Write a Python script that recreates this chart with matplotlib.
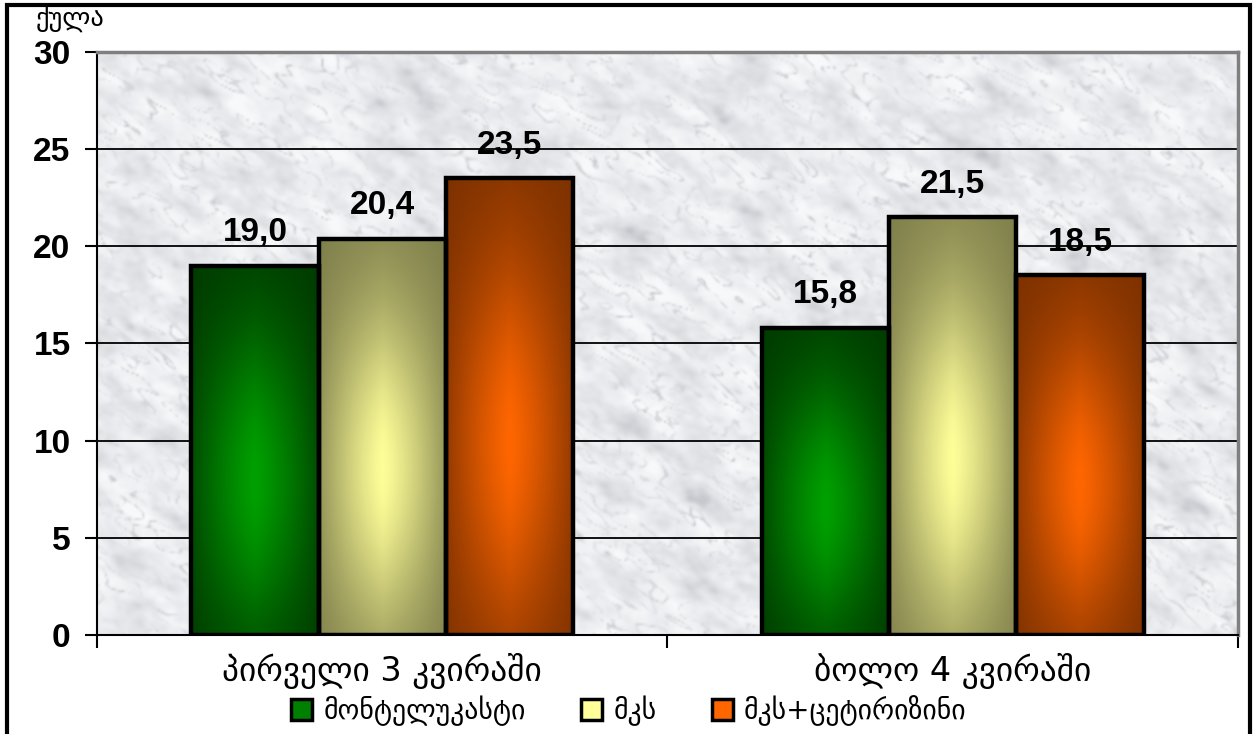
import numpy as np
import matplotlib
matplotlib.use("Agg")
import matplotlib.pyplot as plt
from matplotlib.patches import Patch, Rectangle
from matplotlib.colors import LinearSegmentedColormap, to_rgb

plt.rcParams['font.family'] = ['DejaVu Sans']

categories = ['პირველი 3 კვირაში', 'ბოლო 4 კვირაში']
series_names = ['მონტელუკასტი', 'მკს', 'მკს+ცეტირიზინი']
values = [
    [19.0, 15.8],
    [20.4, 21.5],
    [23.5, 18.5],
]
# dark rim colour and bright centre colour for each series
dark_cols = ['#003800', '#7c7c4a', '#7a3000']
bright_cols = ['#00a000', '#ffff99', '#ff6600']
legend_cols = ['#008000', '#ffff99', '#ff6600']
y_label = 'ქულა'

num_font = ['Liberation Sans', 'DejaVu Sans']


def streaky_noise(rng, h, w, sx, sy, angle):
    # low-pass filtered noise, stretched along a slanted direction
    f = np.fft.fft2(rng.standard_normal((h, w)))
    ky = np.fft.fftfreq(h)[:, None]
    kx = np.fft.fftfreq(w)[None, :]
    c, s = np.cos(angle), np.sin(angle)
    ku = kx * c + ky * s
    kv = -kx * s + ky * c
    filt = np.exp(-(ku * sx) ** 2 - (kv * sy) ** 2)
    out = np.real(np.fft.ifft2(f * filt))
    return (out - out.mean()) / out.std()


fig = plt.figure(figsize=(12.58, 7.34), dpi=100)
ax = fig.add_axes([0.0771, 0.1349, 0.9070, 0.7943])

# marble backdrop: broad cloudy tone plus thin slanted grey veins
rng = np.random.default_rng(11)
H, W = 300, 580
broad = streaky_noise(rng, H, W, 30, 12, 0.6)
mid = streaky_noise(rng, H, W, 16, 6, 0.6)
fine = streaky_noise(rng, H, W, 7, 5, 0.3)
veins = np.exp(-(mid / 0.2) ** 2) * np.clip(0.5 + 0.5 * broad, 0, 1.5)
val = 0.3 * broad + 0.12 * fine - 1.1 * veins
marble = LinearSegmentedColormap.from_list(
    'marble', [(0.0, '#7a7e84'), (0.35, '#b4b7bc'), (0.62, '#dcdee2'), (0.8, '#eceef1'), (1.0, '#f8f9fa')])
ax.imshow(val, cmap=marble, vmin=-2.6, vmax=0.7, extent=[0, 1, 0, 1],
          transform=ax.transAxes, aspect='auto', interpolation='bicubic', zorder=0)

x = np.arange(len(categories))
width = 0.223
offsets = [-width, 0, width]

# bar face gradient: bright in the lower middle, dark towards the rims
gy = np.linspace(0, 1, 150)[:, None]
gx = np.linspace(0, 1, 80)[None, :]
vert = np.exp(-((gy - 0.42) / 0.42) ** 2)
horiz = 1 - 0.8 * np.abs(2 * gx - 1) ** 1.2
shade = np.clip(vert * horiz, 0, 1)

for i, (name, vals) in enumerate(zip(series_names, values)):
    d = np.array(to_rgb(dark_cols[i]))
    b = np.array(to_rgb(bright_cols[i]))
    img = d + (b - d) * shade[..., None]
    bars = ax.bar(x + offsets[i], vals, width, facecolor='none',
                  edgecolor='black', linewidth=3.2, zorder=3)
    for bar, v in zip(bars, vals):
        x0 = bar.get_x()
        im = ax.imshow(img, extent=[x0, x0 + width, 0, v], aspect='auto',
                       origin='lower', interpolation='bilinear', zorder=2)
        im.set_clip_path(bar)
        ax.text(x0 + width / 2, v + 0.9, f'{v:.1f}'.replace('.', ','),
                ha='center', va='bottom', fontsize=24, fontweight='bold',
                family=num_font, zorder=4)

ax.set_xlim(-0.5, 1.5)
ax.set_ylim(0, 30)
ax.set_yticks(range(0, 31, 5))
ax.set_yticklabels([str(t) for t in range(0, 31, 5)], fontsize=24,
                   fontweight='bold', family=num_font)
ax.yaxis.grid(True, color='black', linewidth=1.3)
for gl in ax.get_ygridlines():
    gl.set_zorder(1)

ax.set_xticks([-0.5, 0.5, 1.5])
ax.set_xticklabels([])
ax.set_xticks(x, minor=True)
ax.set_xticklabels(categories, minor=True, fontsize=24)
ax.tick_params(axis='x', which='minor', length=0, pad=13)
ax.tick_params(axis='x', which='major', length=9, width=1.5, direction='out')
ax.tick_params(axis='y', length=9, width=1.5, pad=10)

ax.spines['left'].set_linewidth(1.5)
ax.spines['bottom'].set_linewidth(1.5)
for s in ['top', 'right']:
    ax.spines[s].set_color('#7f7f7f')
    ax.spines[s].set_linewidth(2.5)

fig.text(0.028, 0.974, y_label, fontsize=19, ha='left', va='center')

handles = [Patch(facecolor=c, edgecolor='black', linewidth=2.5) for c in legend_cols]
fig.legend(handles, series_names, loc='center', bbox_to_anchor=(0.5, 0.032),
           ncol=3, frameon=False, fontsize=20, handlelength=0.75, handleheight=0.75,
           handletextpad=0.4, columnspacing=2.0, borderpad=0.1)

fig.patches.append(Rectangle((0.0056, -0.02), 0.988, 1.013, transform=fig.transFigure,
                             fill=False, edgecolor='black', linewidth=3))

fig.savefig('out.png', dpi=100)
